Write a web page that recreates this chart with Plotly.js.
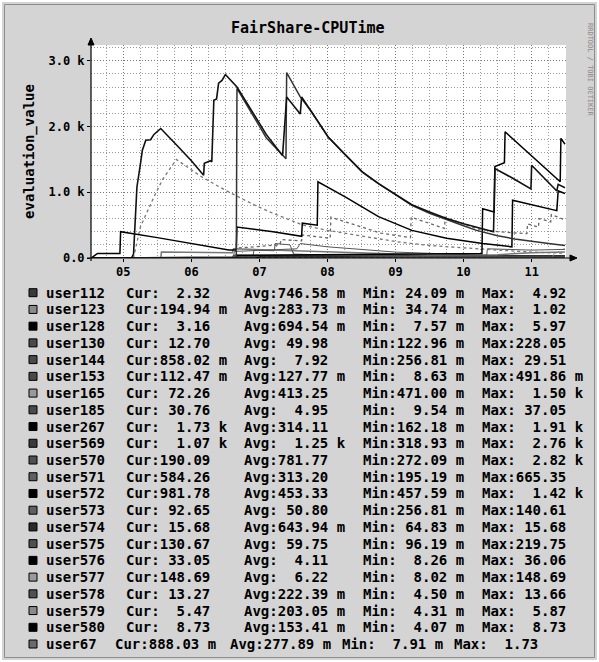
<!DOCTYPE html>
<html><head><meta charset="utf-8">
<script src="https://cdn.plot.ly/plotly-3.0.1.min.js"></script>
<style>html,body{margin:0;padding:0;background:#fff}</style>
</head><body>
<div id="chart" style="width:599px;height:662px"></div>
<script>
// ---------- data (x = day of month, fractional; y = evaluation_value) ----------
const dayTicks = [5, 6, 7, 8, 9, 10, 11];
const dayLabels = ['05', '06', '07', '08', '09', '10', '11'];
const valTicks = [0, 1000, 2000, 3000];
const valLabels = ['0.0', '1.0 k', '2.0 k', '3.0 k'];

const users = ['user112','user123','user128','user130','user144','user153','user165','user185','user267','user569','user570',
  'user571','user572','user573','user574','user575','user576','user577','user578','user579','user580','user67'];
const curText = ['  2.32  ','194.94 m','  3.16  ',' 12.70  ','858.02 m','112.47 m',' 72.26  ',' 30.76  ','  1.73 k','  1.07 k','190.09  ',
  '584.26  ','981.78  ',' 92.65  ',' 15.68  ','130.67  ',' 33.05  ','148.69  ',' 13.27  ','  5.47  ','  8.73  ','888.03 m'];
const avgText = ['746.58 m','283.73 m','694.54 m',' 49.98  ','  7.92  ','127.77 m','413.25  ','  4.95  ','314.11  ','  1.25 k','781.77  ',
  '313.20  ','453.33  ',' 50.80  ','643.94 m',' 59.75  ','  4.11  ','  6.22  ','222.39 m','203.05 m','153.41 m','277.89 m'];
const minText = [' 24.09 m',' 34.74 m','  7.57 m','122.96 m','256.81 m','  8.63 m','471.00 m','  9.54 m','162.18 m','318.93 m','272.09 m',
  '195.19 m','457.59 m','256.81 m',' 64.83 m',' 96.19 m','  8.26 m','  8.02 m','  4.50 m','  4.31 m','  4.07 m','  7.91 m'];
const maxText = ['  4.92','  1.02','  5.97','228.05',' 29.51','491.86 m','  1.50 k',' 37.05','  1.91 k','  2.76 k','  2.82 k',
  '665.35','  1.42 k','140.61',' 15.68','219.75',' 36.06','148.69',' 13.66','  5.87','  8.73','  1.73'];
const swatchColors = ['#3a3a3a','#8a8a8a','#000000','#4a4a4a','#4a4a4a','#4a4a4a','#9a9a9a','#4a4a4a','#000000','#3a3a3a','#505050',
  '#606060','#000000','#606060','#2a2a2a','#505050','#000000','#9a9a9a','#505050','#8a8a8a','#000000','#6a6a6a'];

const d569 = [4.53,5.12,5.15,5.18,5.20,5.25,5.28,5.33,5.40,5.45,5.55,5.80,6.00,6.18,6.19,6.28,6.30,6.33,6.37,6.40,6.45,6.50,6.67,6.94,7.10,7.33,7.34,7.40,7.60,7.62,7.77,8.01,8.26,8.51,8.75,9.00,9.24,9.50,9.75,10.00,10.25,10.44,10.46,10.71,10.99,11.00,11.37,11.39,11.49];
const v569 = [0,0,60,680,1080,1420,1640,1790,1800,1880,1970,1700,1480,1260,1440,1480,1460,2400,2420,2660,2700,2790,2600,2150,1880,1570,1560,2450,2190,2450,2220,1840,1570,1310,1130,960,810,700,600,520,450,400,1360,1220,1050,1410,1020,1120,1070];
const d570 = [4.53,6.66,6.67,6.94,7.10,7.39,7.40,7.60,7.77,8.01,8.26,8.51,8.75,9.00,9.24,9.50,9.75,10.00,10.19,10.50,10.75,11.00,11.25,11.49];
const v570 = [0,0,2580,2100,1830,1510,2820,2450,2220,1840,1570,1310,1130,960,800,680,580,490,420,340,290,250,220,190];
const d165 = [4.53,5.15,5.25,5.35,5.45,5.58,5.70,5.78,6.00,6.16,6.50,6.94,7.20,7.64,8.00,8.50,9.00,9.50,10.00,10.50,11.00,11.49];
const v165 = [0,0,470,700,930,1200,1390,1500,1340,1230,1030,800,680,500,420,330,250,190,150,120,90,72];
const d267 = [4.53,6.66,6.67,10.27,10.28,10.45,10.46,10.60,10.61,11.00,11.20,11.42,11.43,11.49];
const v267 = [0,0,40,70,750,700,1390,1450,1920,1550,1370,1160,1820,1730];
const d572 = [4.53,4.62,4.95,4.96,5.50,6.00,6.55,6.66,6.67,7.20,7.62,7.63,7.85,7.86,8.26,8.75,9.24,9.75,10.28,10.71,10.72,11.37,11.39,11.49];
const v572 = [0,70,70,400,310,220,120,120,470,400,330,530,500,1160,930,630,420,300,220,170,880,720,1020,980];
const d571 = [4.53,6.64,6.66,7.20,7.30,7.32,7.62,7.63,8.04,8.05,8.78,9.22,9.23,9.72,9.73,10.22,10.50,10.93,10.94,11.10,11.11,11.28,11.29,11.49];
const v571 = [0,0,150,200,200,280,260,350,300,620,380,310,620,450,620,440,400,370,520,470,600,550,660,580];
const d130 = [4.53,6.90,6.92,7.22,7.23,7.45,7.50,8.50,9.50,11.49];
const v130 = [0,0,120,110,220,200,60,30,20,13];
const d575 = [4.53,6.62,6.63,7.00,7.55,7.60,8.00,9.00,10.00,10.34,10.35,11.00,11.49];
const v575 = [0,0,100,120,140,220,170,90,50,40,140,120,131];
const d573 = [4.53,5.55,5.56,6.60,6.62,7.50,8.50,9.50,10.50,11.00,11.49];
const v573 = [0,0,90,80,141,110,70,45,50,80,93];
const d577 = [4.53,11.30,11.32,11.45,11.49];
const v577 = [0,0,50,120,149];
const d185 = [4.53,6.60,6.62,9.00,11.49];
const v185 = [0,0,37,30,31];
const d576 = [4.53,7.00,7.02,11.49];
const v576 = [0,0,36,33];
const d144 = [4.53,6.62,6.64,9.00,11.49];
const v144 = [0,0,29,10,1];
const d574 = [4.53,11.40,11.49];
const v574 = [0,5,16];
const d578 = [4.53,8.00,11.49];
const v578 = [0,14,13];
const d580 = [4.53,10.00,11.49];
const v580 = [0,4,9];
const d128 = [4.53,6.00,11.49];
const v128 = [0,6,3];
const d579 = [4.53,7.00,11.49];
const v579 = [0,6,5];
const d112 = [4.53,7.00,11.49];
const v112 = [0,5,2];
const d67 = [4.53,8.00,11.49];
const v67 = [0,1.7,0.9];
const d123 = [4.53,6.00,11.49];
const v123 = [0,1,0.2];
const d153 = [4.53,6.00,11.49];
const v153 = [0,0.5,0.1];

// ---------- drawing ----------
const MONO = 'DejaVu Sans Mono, Liberation Mono, monospace';
const W = 599, H = 662, L = 91, R = 566, T = 45, B = 258;
const px = p => (p - L) / (R - L);
const py = p => (B - p) / (B - T);

function tr(x, y, color, width, dash) {
  return {x: x, y: y, type: 'scatter', mode: 'lines', hoverinfo: 'skip',
    line: {color: color, width: width, dash: dash || 'solid', shape: 'linear'}};
}
const traces = [
  tr(d153, v153, '#444', 1.5), tr(d123, v123, '#555', 1.5), tr(d67, v67, '#555', 1.5),
  tr(d112, v112, '#333', 1.5), tr(d579, v579, '#666', 1.5), tr(d128, v128, '#000', 1.5),
  tr(d580, v580, '#000', 1.5), tr(d578, v578, '#444', 1.5), tr(d574, v574, '#222', 1.5),
  tr(d144, v144, '#444', 1.5), tr(d576, v576, '#000', 1.5), tr(d185, v185, '#444', 1.5),
  tr(d577, v577, '#888', 1, 'dot'), tr(d573, v573, '#777', 1.5), tr(d575, v575, '#555', 1),
  tr(d130, v130, '#555', 1), tr(d571, v571, '#666', 1.3, 'dot'), tr(d165, v165, '#777', 1.3, 'dot'),
  tr(d572, v572, '#000', 1.5), tr(d267, v267, '#000', 1.5),
  tr(d570, v570, '#333', 1.5), tr(d569, v569, '#111', 1.6)
];

const annotations = [];
const shapes = [];
const rowY0 = 292.7, rowStep = 16.73;
const nb = s => s.replace(/ /g, '\u00A0');
const colX = [45, 125, 243, 362, 481];
const colXLast = [45, 114, 229, 341, 453];
const legFont = {family: MONO, size: 14, color: '#000', weight: 'bold'};
users.forEach((u, i) => {
  const yy = rowY0 + i * rowStep;
  const cx = (i === users.length - 1) ? colXLast : colX;
  const parts = [u, 'Cur:' + curText[i], 'Avg:' + avgText[i], 'Min:' + minText[i], 'Max:' + maxText[i]];
  parts.forEach((t, k) => {
    annotations.push({xref: 'paper', yref: 'paper', x: px(cx[k]), y: py(yy), xanchor: 'left', yanchor: 'middle',
      text: nb(t), showarrow: false, font: legFont, borderpad: 0});
  });
  shapes.push({type: 'rect', xref: 'paper', yref: 'paper', x0: px(29), x1: px(37), y0: py(yy + 4), y1: py(yy - 4),
    fillcolor: swatchColors[i], line: {color: '#000', width: 1}});
});

// title and watermark
annotations.push({xref: 'paper', yref: 'paper', x: px(308), y: py(28), xanchor: 'center', yanchor: 'middle',
  text: 'FairShare-CPUTime', showarrow: false, font: {family: MONO, size: 15, color: '#000', weight: 'bold'}});
annotations.push({xref: 'paper', yref: 'paper', x: px(590), y: py(70), xanchor: 'center', yanchor: 'middle',
  text: 'RRDTOOL / TOBI OETIKER', textangle: 90, showarrow: false, font: {family: MONO, size: 7, color: '#8a8a8a'}});

// axis lines with arrows, outer frame
shapes.push({type: 'line', xref: 'paper', yref: 'paper', x0: px(91), x1: px(91), y0: py(261), y1: py(40), line: {color: '#000', width: 1.2}});
shapes.push({type: 'path', xref: 'paper', yref: 'paper', fillcolor: '#000', line: {color: '#000', width: 1},
  path: `M ${px(88)} ${py(45)} L ${px(94)} ${py(45)} L ${px(91)} ${py(38)} Z`});
shapes.push({type: 'line', xref: 'paper', yref: 'paper', x0: px(87), x1: px(574), y0: py(258), y1: py(258), line: {color: '#000', width: 1.2}});
shapes.push({type: 'path', xref: 'paper', yref: 'paper', fillcolor: '#000', line: {color: '#000', width: 1},
  path: `M ${px(570)} ${py(255)} L ${px(570)} ${py(261)} L ${px(577)} ${py(258)} Z`});
shapes.push({type: 'rect', xref: 'paper', yref: 'paper', x0: px(-2), x1: px(601), y0: py(-2), y1: py(664),
  line: {color: '#ffffff', width: 8}});
shapes.push({type: 'rect', xref: 'paper', yref: 'paper', x0: px(4.5), x1: px(594.5), y0: py(4.5), y1: py(657.5),
  line: {color: '#8c8c8c', width: 1}});

const gridDash = '1px,2px';
const layout = {
  width: W, height: H,
  margin: {l: L, r: W - R, t: T, b: H - B, pad: 0},
  paper_bgcolor: '#d4d4d4', plot_bgcolor: '#ffffff',
  showlegend: false, hovermode: false,
  font: {family: MONO, color: '#000'},
  xaxis: {
    range: [4.525, 11.505], tickmode: 'array', tickvals: dayTicks, ticktext: dayLabels,
    showgrid: true, gridcolor: '#777', griddash: gridDash, gridwidth: 1,
    zeroline: false, showline: false, ticks: 'outside', ticklen: 3, tickcolor: '#000',
    tickfont: {family: MONO, size: 12, color: '#000', weight: 'bold'},
    minor: {tickmode: 'linear', tick0: 5, dtick: 0.25, showgrid: true, gridcolor: '#9a9a9a', griddash: gridDash, gridwidth: 1},
    fixedrange: true
  },
  yaxis: {
    range: [0, 3240], tickmode: 'array', tickvals: valTicks, ticktext: valLabels,
    showgrid: true, gridcolor: '#777', griddash: gridDash, gridwidth: 1,
    zeroline: false, showline: false, ticks: 'outside', ticklen: 3, tickcolor: '#000',
    tickfont: {family: MONO, size: 12, color: '#000', weight: 'bold'},
    minor: {tickmode: 'linear', tick0: 0, dtick: 200, showgrid: true, gridcolor: '#9a9a9a', griddash: gridDash, gridwidth: 1},
    title: {text: 'evaluation_value', font: {family: MONO, size: 14, color: '#000', weight: 'bold'}, standoff: 10},
    fixedrange: true
  },
  annotations: annotations,
  shapes: shapes
};
Plotly.newPlot('chart', traces, layout, {staticPlot: true, displayModeBar: false});
</script>
</body></html>
